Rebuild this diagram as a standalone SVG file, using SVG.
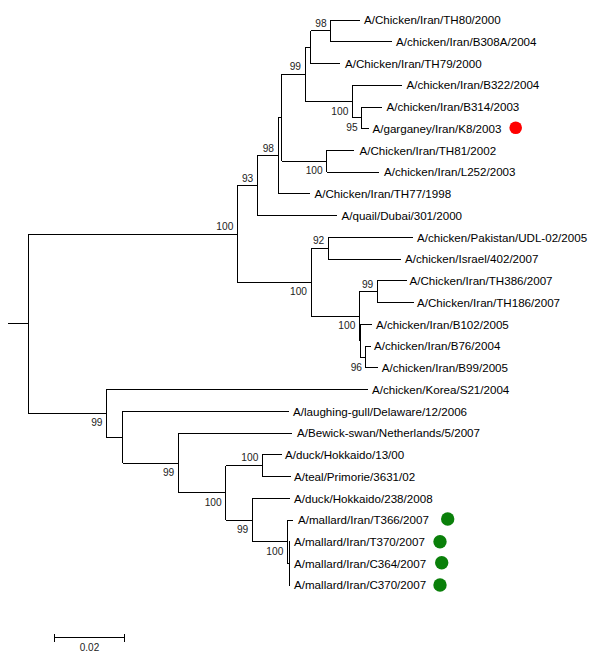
<svg xmlns="http://www.w3.org/2000/svg" width="600" height="657" viewBox="0 0 600 657">
<style>
.br{fill:none;stroke:#000;stroke-width:1;shape-rendering:crispEdges}
.lb{font-family:"Liberation Sans",Arial,sans-serif;font-size:11.6px;fill:#000}
.bs{font-family:"Liberation Sans",Arial,sans-serif;font-size:10.2px;fill:#222;text-anchor:end}
.sc{font-family:"Liberation Sans",Arial,sans-serif;font-size:10px;fill:#222;text-anchor:middle}
.red{fill:#ff0000}
.grn{fill:#0a800a}
</style>
<rect width="600" height="657" fill="#fff"/>
<g id="connectors">
<path class="br" d="M8.3,323.7H28.3 M28.3,234.1V413.3 M28.3,234.1H237.3 M28.3,413.3H106"/>
<path class="br" d="M237.3,185.8V282.2 M237.3,185.8H257.3 M237.3,282.2H311"/>
<path class="br" d="M257.3,155.9V215.7 M257.3,155.9H278 M257.3,215.7H337.3"/>
<path class="br" d="M278,117.9V193.9 M278,117.9H281.7 M278,193.9H310"/>
<path class="br" d="M281.7,74.4V161.3 M281.7,74.4H305 M281.7,161.3H326.7"/>
<path class="br" d="M305,47.2V101.5 M305,47.2H310.7 M305,101.5H352.3"/>
<path class="br" d="M310.7,30.9V63.5 M310.7,30.9H330.7 M310.7,63.5H340"/>
<path class="br" d="M330.7,20V41.7 M330.7,20H359.5 M330.7,41.7H391.7"/>
<path class="br" d="M352.3,85.2V117.8 M352.3,85.2H401.7 M352.3,117.8H361.7"/>
<path class="br" d="M361.7,107V128.7 M361.7,107H381.7 M361.7,128.7H368.5"/>
<path class="br" d="M326.7,150.4V172.2 M326.7,150.4H354.3 M326.7,172.2H379.3"/>
<path class="br" d="M311,248.3V316.2 M311,248.3H328.3 M311,316.2H359.3"/>
<path class="br" d="M328.3,237.4V259.1 M328.3,237.4H413.3 M328.3,259.1H401"/>
<path class="br" d="M359.3,291.8V340.7 M359.3,291.8H377.3 M359.3,340.7H360.3"/>
<path class="br" d="M377.3,280.9V302.6 M377.3,280.9H406.5 M377.3,302.6H414"/>
<path class="br" d="M360.3,324.4V357 M360.3,324.4H371.7 M360.3,357H365"/>
<path class="br" d="M365,346.1V367.8 M365,346.1H370.7 M365,367.8H378"/>
<path class="br" d="M106,389.6V437.1 M106,389.6H368.3 M106,437.1H122.7"/>
<path class="br" d="M122.7,411.3V463 M122.7,411.3H289.3 M122.7,463H178.3"/>
<path class="br" d="M178.3,433.1V492.9 M178.3,433.1H292 M178.3,492.9H225.7"/>
<path class="br" d="M225.7,465.7V520 M225.7,465.7H262.3 M225.7,520H252.3"/>
<path class="br" d="M262.3,454.8V476.5 M262.3,454.8H281.7 M262.3,476.5H290.7"/>
<path class="br" d="M252.3,498.3V541.8 M252.3,498.3H290 M252.3,541.8H287.3"/>
<path class="br" d="M287.3,520V563.5 M287.3,520H292.7 M287.3,563.5H289.3"/>
<path class="br" d="M289.3,541.8V585.2 M289.3,541.8H290 M289.3,563.5H290 M289.3,585.2H290"/>
</g>
<g id="bootstrap">
<text class="bs" x="326.7" y="26.6">98</text>
<text class="bs" x="301" y="70.1">99</text>
<text class="bs" x="348.3" y="114.5">100</text>
<text class="bs" x="357.7" y="130.8">95</text>
<text class="bs" x="274" y="151.6">98</text>
<text class="bs" x="322.7" y="174.3">100</text>
<text class="bs" x="253.3" y="181.5">93</text>
<text class="bs" x="233.3" y="229.8">100</text>
<text class="bs" x="324.3" y="244">92</text>
<text class="bs" x="307" y="295.2">100</text>
<text class="bs" x="373.3" y="287.5">99</text>
<text class="bs" x="355.3" y="329.2">100</text>
<text class="bs" x="362" y="370.6">96</text>
<text class="bs" x="102.5" y="426.3">99</text>
<text class="bs" x="174.3" y="476">99</text>
<text class="bs" x="258.3" y="461.4">100</text>
<text class="bs" x="221.7" y="505.9">100</text>
<text class="bs" x="248.3" y="533">99</text>
<text class="bs" x="283.3" y="554.8">100</text>
</g>
<g id="leaf-TH80"><text class="lb" x="364" y="24.2">A/Chicken/Iran/TH80/2000</text></g>
<g id="leaf-B308A"><text class="lb" x="396" y="45.9">A/chicken/Iran/B308A/2004</text></g>
<g id="leaf-TH79"><text class="lb" x="345" y="67.7">A/Chicken/Iran/TH79/2000</text></g>
<g id="leaf-B322"><text class="lb" x="406.5" y="89.4">A/chicken/Iran/B322/2004</text></g>
<g id="leaf-B314"><text class="lb" x="386.5" y="111.2">A/chicken/Iran/B314/2003</text></g>
<g id="leaf-K8"><text class="lb" x="372.5" y="132.9">A/garganey/Iran/K8/2003</text><circle class="red" cx="515.7" cy="127.7" r="6.3"/></g>
<g id="leaf-TH81"><text class="lb" x="359.5" y="154.6">A/Chicken/Iran/TH81/2002</text></g>
<g id="leaf-L252"><text class="lb" x="384" y="176.4">A/chicken/Iran/L252/2003</text></g>
<g id="leaf-TH77"><text class="lb" x="314.5" y="198.1">A/Chicken/Iran/TH77/1998</text></g>
<g id="leaf-quail"><text class="lb" x="341.5" y="219.9">A/quail/Dubai/301/2000</text></g>
<g id="leaf-Pakistan"><text class="lb" x="417" y="241.6">A/chicken/Pakistan/UDL-02/2005</text></g>
<g id="leaf-Israel"><text class="lb" x="405" y="263.3">A/chicken/Israel/402/2007</text></g>
<g id="leaf-TH386"><text class="lb" x="409.5" y="285.1">A/Chicken/Iran/TH386/2007</text></g>
<g id="leaf-TH186"><text class="lb" x="417" y="306.8">A/Chicken/Iran/TH186/2007</text></g>
<g id="leaf-B102"><text class="lb" x="376" y="328.6">A/chicken/Iran/B102/2005</text></g>
<g id="leaf-B76"><text class="lb" x="374" y="350.3">A/chicken/Iran/B76/2004</text></g>
<g id="leaf-B99"><text class="lb" x="381.7" y="372">A/chicken/Iran/B99/2005</text></g>
<g id="leaf-Korea"><text class="lb" x="372" y="393.8">A/chicken/Korea/S21/2004</text></g>
<g id="leaf-gull"><text class="lb" x="293" y="415.5">A/laughing-gull/Delaware/12/2006</text></g>
<g id="leaf-Bewick"><text class="lb" x="297" y="437.3">A/Bewick-swan/Netherlands/5/2007</text></g>
<g id="leaf-duck13"><text class="lb" x="285" y="459">A/duck/Hokkaido/13/00</text></g>
<g id="leaf-teal"><text class="lb" x="294" y="480.7">A/teal/Primorie/3631/02</text></g>
<g id="leaf-duck238"><text class="lb" x="294" y="502.5">A/duck/Hokkaido/238/2008</text></g>
<g id="leaf-T366"><text class="lb" x="298" y="524.2">A/mallard/Iran/T366/2007</text><circle class="grn" cx="447.7" cy="519" r="6.7"/></g>
<g id="leaf-T370"><text class="lb" x="294" y="546">A/mallard/Iran/T370/2007</text><circle class="grn" cx="440" cy="541.7" r="6.7"/></g>
<g id="leaf-C364"><text class="lb" x="294" y="567.7">A/mallard/Iran/C364/2007</text><circle class="grn" cx="441.7" cy="562.7" r="6.7"/></g>
<g id="leaf-C370"><text class="lb" x="294" y="589.4">A/mallard/Iran/C370/2007</text><circle class="grn" cx="440" cy="585" r="6.7"/></g>
<g id="scale">
<path class="br" d="M54,637.7H124 M54,634V641.7 M124,634V641.7"/>
<text class="sc" x="89.5" y="651.3">0.02</text>
</g>
</svg>
